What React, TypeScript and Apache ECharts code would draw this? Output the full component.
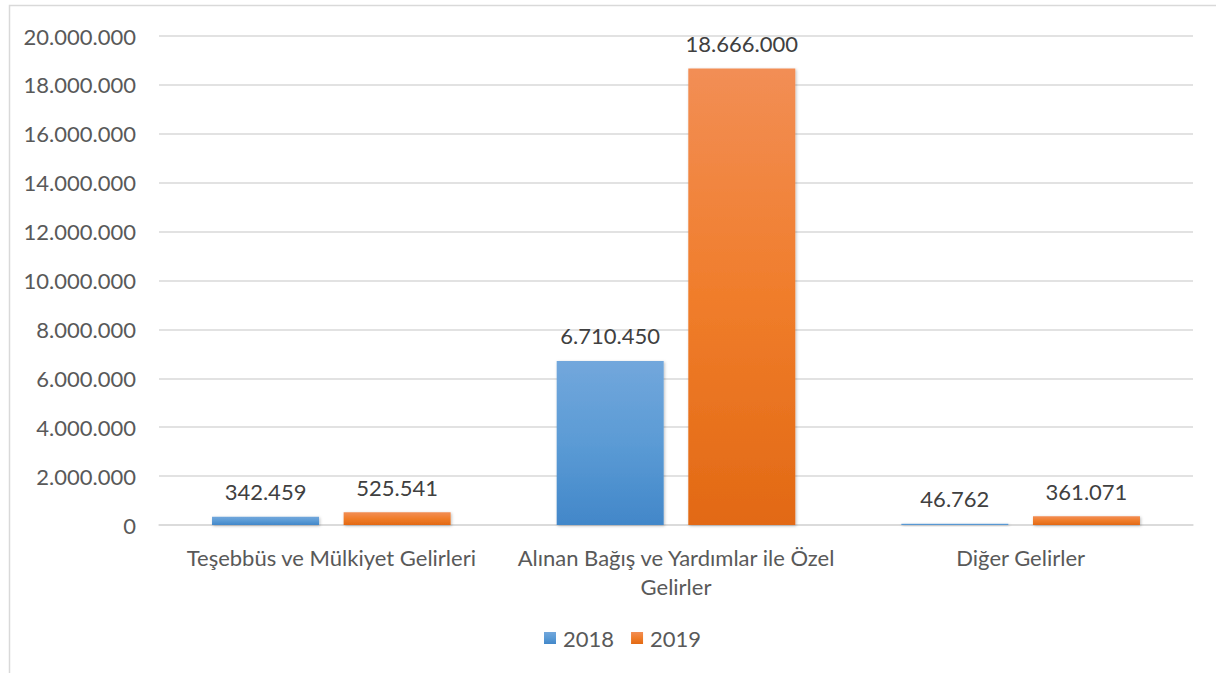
import React, { useEffect, useRef } from "react";
import * as echarts from "echarts";

const categories = [
  "Teşebbüs ve Mülkiyet Gelirleri",
  "Alınan Bağış ve Yardımlar ile Özel Gelirler",
  "Diğer Gelirler",
];
const seriesNames = ["2018", "2019"];
const values2018 = [342459, 6710450, 46762];
const values2019 = [525541, 18666000, 361071];
const yTicks = { min: 0, max: 20000000, interval: 2000000 };

const FONT = "Lato, 'Open Sans', sans-serif";
const FS = 22;

function fmt(v: number): string {
  return String(Math.round(v)).replace(/\B(?=(\d{3})+(?!\d))/g, ".");
}

function wrap(s: string): string {
  if (s.length <= 32) return s;
  const i = s.lastIndexOf(" ");
  return s.slice(0, i) + "\n" + s.slice(i + 1);
}

const blueGrad = new echarts.graphic.LinearGradient(0, 0, 0, 1, [
  { offset: 0, color: "#72A7DC" },
  { offset: 0.5, color: "#5B9BD5" },
  { offset: 1, color: "#4287C9" },
]);
const orangeGrad = new echarts.graphic.LinearGradient(0, 0, 0, 1, [
  { offset: 0, color: "#F28E55" },
  { offset: 0.5, color: "#F07D2B" },
  { offset: 1, color: "#E26914" },
]);

export default function App() {
  const ref = useRef<HTMLDivElement>(null);
  useEffect(() => {
    if (!ref.current) return;
    const chart = echarts.init(ref.current, undefined, { renderer: "svg" });
    const labelStyle = {
      show: true,
      position: "top" as const,
      distance: 14,
      color: "#404040",
      fontSize: FS,
      fontFamily: FONT,
      formatter: (p: any) => fmt(p.value),
    };
    const shadow = {
      shadowBlur: 3,
      shadowColor: "rgba(0,0,0,0.25)",
      shadowOffsetX: 1,
      shadowOffsetY: 1,
    };
    chart.setOption({
      animation: false,
      backgroundColor: "#ffffff",
      textStyle: { fontFamily: FONT },
      graphic: [
        {
          type: "rect",
          z: -10,
          shape: { x: 9.5, y: 5.5, width: 1400, height: 1000 },
          style: { fill: "none", stroke: "#d9d9d9", lineWidth: 1.5 },
        },
      ],
      grid: { left: 159, right: 23, top: 36, bottom: 148, containLabel: false },
      legend: {
        bottom: 24,
        left: 544,
        padding: 0,
        itemWidth: 12,
        itemHeight: 12,
        itemGap: 17,
        icon: "rect",
        textStyle: { color: "#595959", fontSize: FS, fontFamily: FONT, padding: [0, 0, 0, 2] },
        data: seriesNames,
      },
      xAxis: {
        type: "category",
        data: categories,
        axisLine: { show: true, lineStyle: { color: "#d9d9d9", width: 1.5 } },
        axisTick: { show: false },
        axisLabel: {
          color: "#595959",
          fontSize: FS,
          fontFamily: FONT,
          margin: 18,
          lineHeight: 29,
          interval: 0,
          formatter: (v: string) => wrap(v),
        },
      },
      yAxis: {
        type: "value",
        min: yTicks.min,
        max: yTicks.max,
        interval: yTicks.interval,
        axisLine: { show: false },
        axisTick: { show: false },
        splitLine: { lineStyle: { color: "#d9d9d9", width: 1.5 } },
        axisLabel: {
          color: "#595959",
          fontSize: FS,
          fontFamily: FONT,
          margin: 23,
          formatter: (v: number) => fmt(v),
        },
      },
      series: [
        {
          name: seriesNames[0],
          type: "bar",
          data: values2018,
          barWidth: 107,
          barGap: "23%",
          itemStyle: { color: blueGrad, ...shadow },
          label: labelStyle,
        },
        {
          name: seriesNames[1],
          type: "bar",
          data: values2019,
          barWidth: 107,
          barGap: "23%",
          itemStyle: { color: orangeGrad, ...shadow },
          label: labelStyle,
        },
      ],
    });
    return () => chart.dispose();
  }, []);
  return (
    <div
      ref={ref}
      style={{ position: "absolute", left: 0, top: 0, width: 1216, height: 673 }}
    />
  );
}
